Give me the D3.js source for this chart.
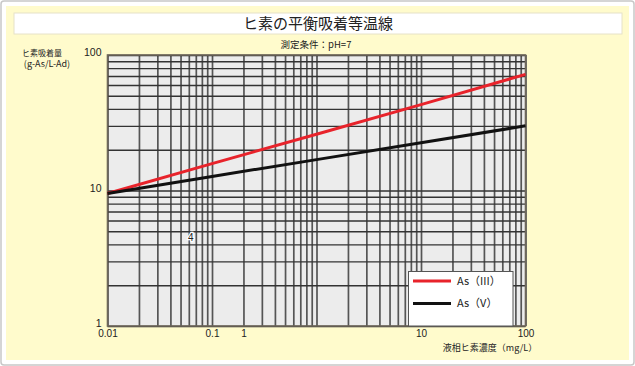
<!DOCTYPE html>
<html>
<head>
<meta charset="utf-8">
<script src="https://cdn.jsdelivr.net/npm/d3@7"></script>
<style>
  body { margin: 0; background: #fff; }
  text { font-family: "Noto Sans CJK JP", "Noto Sans", sans-serif; fill: #222; }
</style>
</head>
<body>
<div id="container"></div>
<script>
let w = 635;
let h = 366;

// data
let concX = [0.01, 0.1, 1, 10, 100];
let as3 = [9.5, 15.8, 26, 43, 72];
let as5 = [9.5, 12.7, 16.9, 22.5, 30];
let seriesNames = ["As（III）", "As（V）"];
let seriesColors = ["#e8232b", "#111111"];

// tick labels as printed (the "1" sits where 0.2 is in the original)
let xLabelAt = [0.01, 0.1, 0.2, 10, 100];
let xLabels = ["0.01", "0.1", "1", "10", "100"];
let yLabelAt = [1, 10, 100];
let yLabels = ["1", "10", "100"];
let strayLabel = {x: 0.0625, y: 4.5, text: "4"};

let pLeft = 107.5, pRight = 525.5, pTop = 55, pBottom = 326;

let viz = d3.select("#container").append("svg")
    .attr("width", w)
    .attr("height", h)
;

// frame
viz.append("rect")
    .attr("x", 1).attr("y", 1).attr("width", w-2).attr("height", h-2)
    .attr("rx", 3)
    .attr("fill", "#fff").attr("stroke", "#c8c8c8").attr("stroke-width", 1.5)
;
viz.append("rect")
    .attr("x", 6).attr("y", 6).attr("width", 623).attr("height", 354)
    .attr("fill", "#fffbcc")
;
viz.append("rect")
    .attr("x", 14).attr("y", 13).attr("width", 608).attr("height", 21)
    .attr("fill", "#fff").attr("stroke", "#e6e2c8").attr("stroke-width", 1)
;
viz.append("text")
    .attr("x", 318).attr("y", 29)
    .attr("text-anchor", "middle")
    .style("font-size", "15px")
    .text("ヒ素の平衡吸着等温線")
;
viz.append("text")
    .attr("x", 316).attr("y", 48)
    .attr("text-anchor", "middle")
    .style("font-size", "9.5px")
    .text("測定条件：pH=7")
;

// scales
let xScale = d3.scaleLog().domain([0.01, 100]).range([pLeft, pRight]);
let yScale = d3.scaleLog().domain([1, 100]).range([pBottom, pTop]);

viz.append("rect")
    .attr("x", pLeft).attr("y", pTop)
    .attr("width", pRight-pLeft).attr("height", pBottom-pTop)
    .attr("fill", "#ececec")
;

// grid through axes
let xGrid = viz.append("g")
    .attr("class", "xgrid")
    .attr("transform", "translate(0,"+pBottom+")")
    .call(d3.axisBottom(xScale).tickValues(xScale.ticks()).tickSize(-(pBottom-pTop)).tickFormat(""))
;
xGrid.selectAll("line").attr("stroke", "#555").attr("stroke-width", 1.7);
xGrid.select("path").attr("display", "none");

let yGrid = viz.append("g")
    .attr("class", "ygrid")
    .attr("transform", "translate("+pLeft+",0)")
    .call(d3.axisLeft(yScale).tickValues(yScale.ticks()).tickSize(-(pRight-pLeft)).tickFormat(""))
;
yGrid.selectAll("line").attr("stroke", "#333").attr("stroke-width", 1.4);
yGrid.select("path").attr("display", "none");

// plot border
viz.append("rect")
    .attr("x", pLeft).attr("y", pTop)
    .attr("width", pRight-pLeft).attr("height", pBottom-pTop)
    .attr("fill", "none").attr("stroke", "#6e675a").attr("stroke-width", 1.6)
;

// tick labels
let xAxis = d3.axisBottom(xScale).tickValues(xLabelAt).tickSize(0)
    .tickFormat((d, i) => xLabels[i]);
let xAxisGroup = viz.append("g")
    .attr("class", "xaxisgroup")
    .attr("transform", "translate(0,"+pBottom+")")
    .call(xAxis)
;
xAxisGroup.select("path").attr("display", "none");
xAxisGroup.selectAll("text")
    .attr("y", 4).attr("dy", "0.71em")
    .style("font-size", "10px").style("font-family", "'Liberation Sans', sans-serif")
    .attr("fill", "#222")
;

let yAxis = d3.axisLeft(yScale).tickValues(yLabelAt).tickSize(0)
    .tickFormat((d, i) => yLabels[i]);
let yAxisGroup = viz.append("g")
    .attr("class", "yaxisgroup")
    .attr("transform", "translate("+pLeft+",0)")
    .call(yAxis)
;
yAxisGroup.select("path").attr("display", "none");
yAxisGroup.selectAll("text")
    .attr("x", -6).attr("dy", "0.05em")
    .style("font-size", "10.5px").style("font-family", "'Liberation Sans', sans-serif")
    .attr("fill", "#222")
;

// axis titles
viz.append("text")
    .attr("x", 42).attr("y", 56)
    .attr("text-anchor", "middle")
    .style("font-size", "8px")
    .text("ヒ素吸着量")
;
viz.append("text")
    .attr("x", 47).attr("y", 67)
    .attr("text-anchor", "middle")
    .style("font-size", "9px")
    .text("(g-As/L-Ad)")
;
viz.append("text")
    .attr("x", 490).attr("y", 351)
    .attr("text-anchor", "middle")
    .style("font-size", "9px")
    .text("液相ヒ素濃度（mg/L）")
;

// stray label from the original
viz.append("text")
    .attr("x", xScale(strayLabel.x)).attr("y", yScale(strayLabel.y))
    .attr("dy", "0.35em")
    .attr("text-anchor", "middle")
    .style("font-size", "10px").style("font-family", "'Liberation Sans', sans-serif")
    .attr("stroke", "#fff").attr("stroke-width", 2.5).attr("paint-order", "stroke")
    .text(strayLabel.text)
;

// lines
let line = d3.line()
    .x(d => xScale(d[0]))
    .y(d => yScale(d[1]))
;
let series = [as3, as5];
series.forEach(function(vals, i){
  viz.append("path")
      .datum(concX.map((c, j) => [c, vals[j]]))
      .attr("d", line)
      .attr("fill", "none")
      .attr("stroke", seriesColors[i])
      .attr("stroke-width", 3)
  ;
});

// legend
let legend = viz.append("g").attr("class", "legend");
legend.append("rect")
    .attr("x", 408.5).attr("y", 271.5).attr("width", 104.5).attr("height", 54.5)
    .attr("fill", "#fff").attr("stroke", "#555").attr("stroke-width", 1)
;
seriesNames.forEach(function(name, i){
  let ly = 281 + i*22.5;
  legend.append("line")
      .attr("x1", 413).attr("x2", 451).attr("y1", ly).attr("y2", ly)
      .attr("stroke", seriesColors[i]).attr("stroke-width", 3)
  ;
  legend.append("text")
      .attr("x", 457).attr("y", ly).attr("dy", "0.36em")
      .style("font-size", "11px")
      .text(name)
  ;
});
</script>
</body>
</html>
